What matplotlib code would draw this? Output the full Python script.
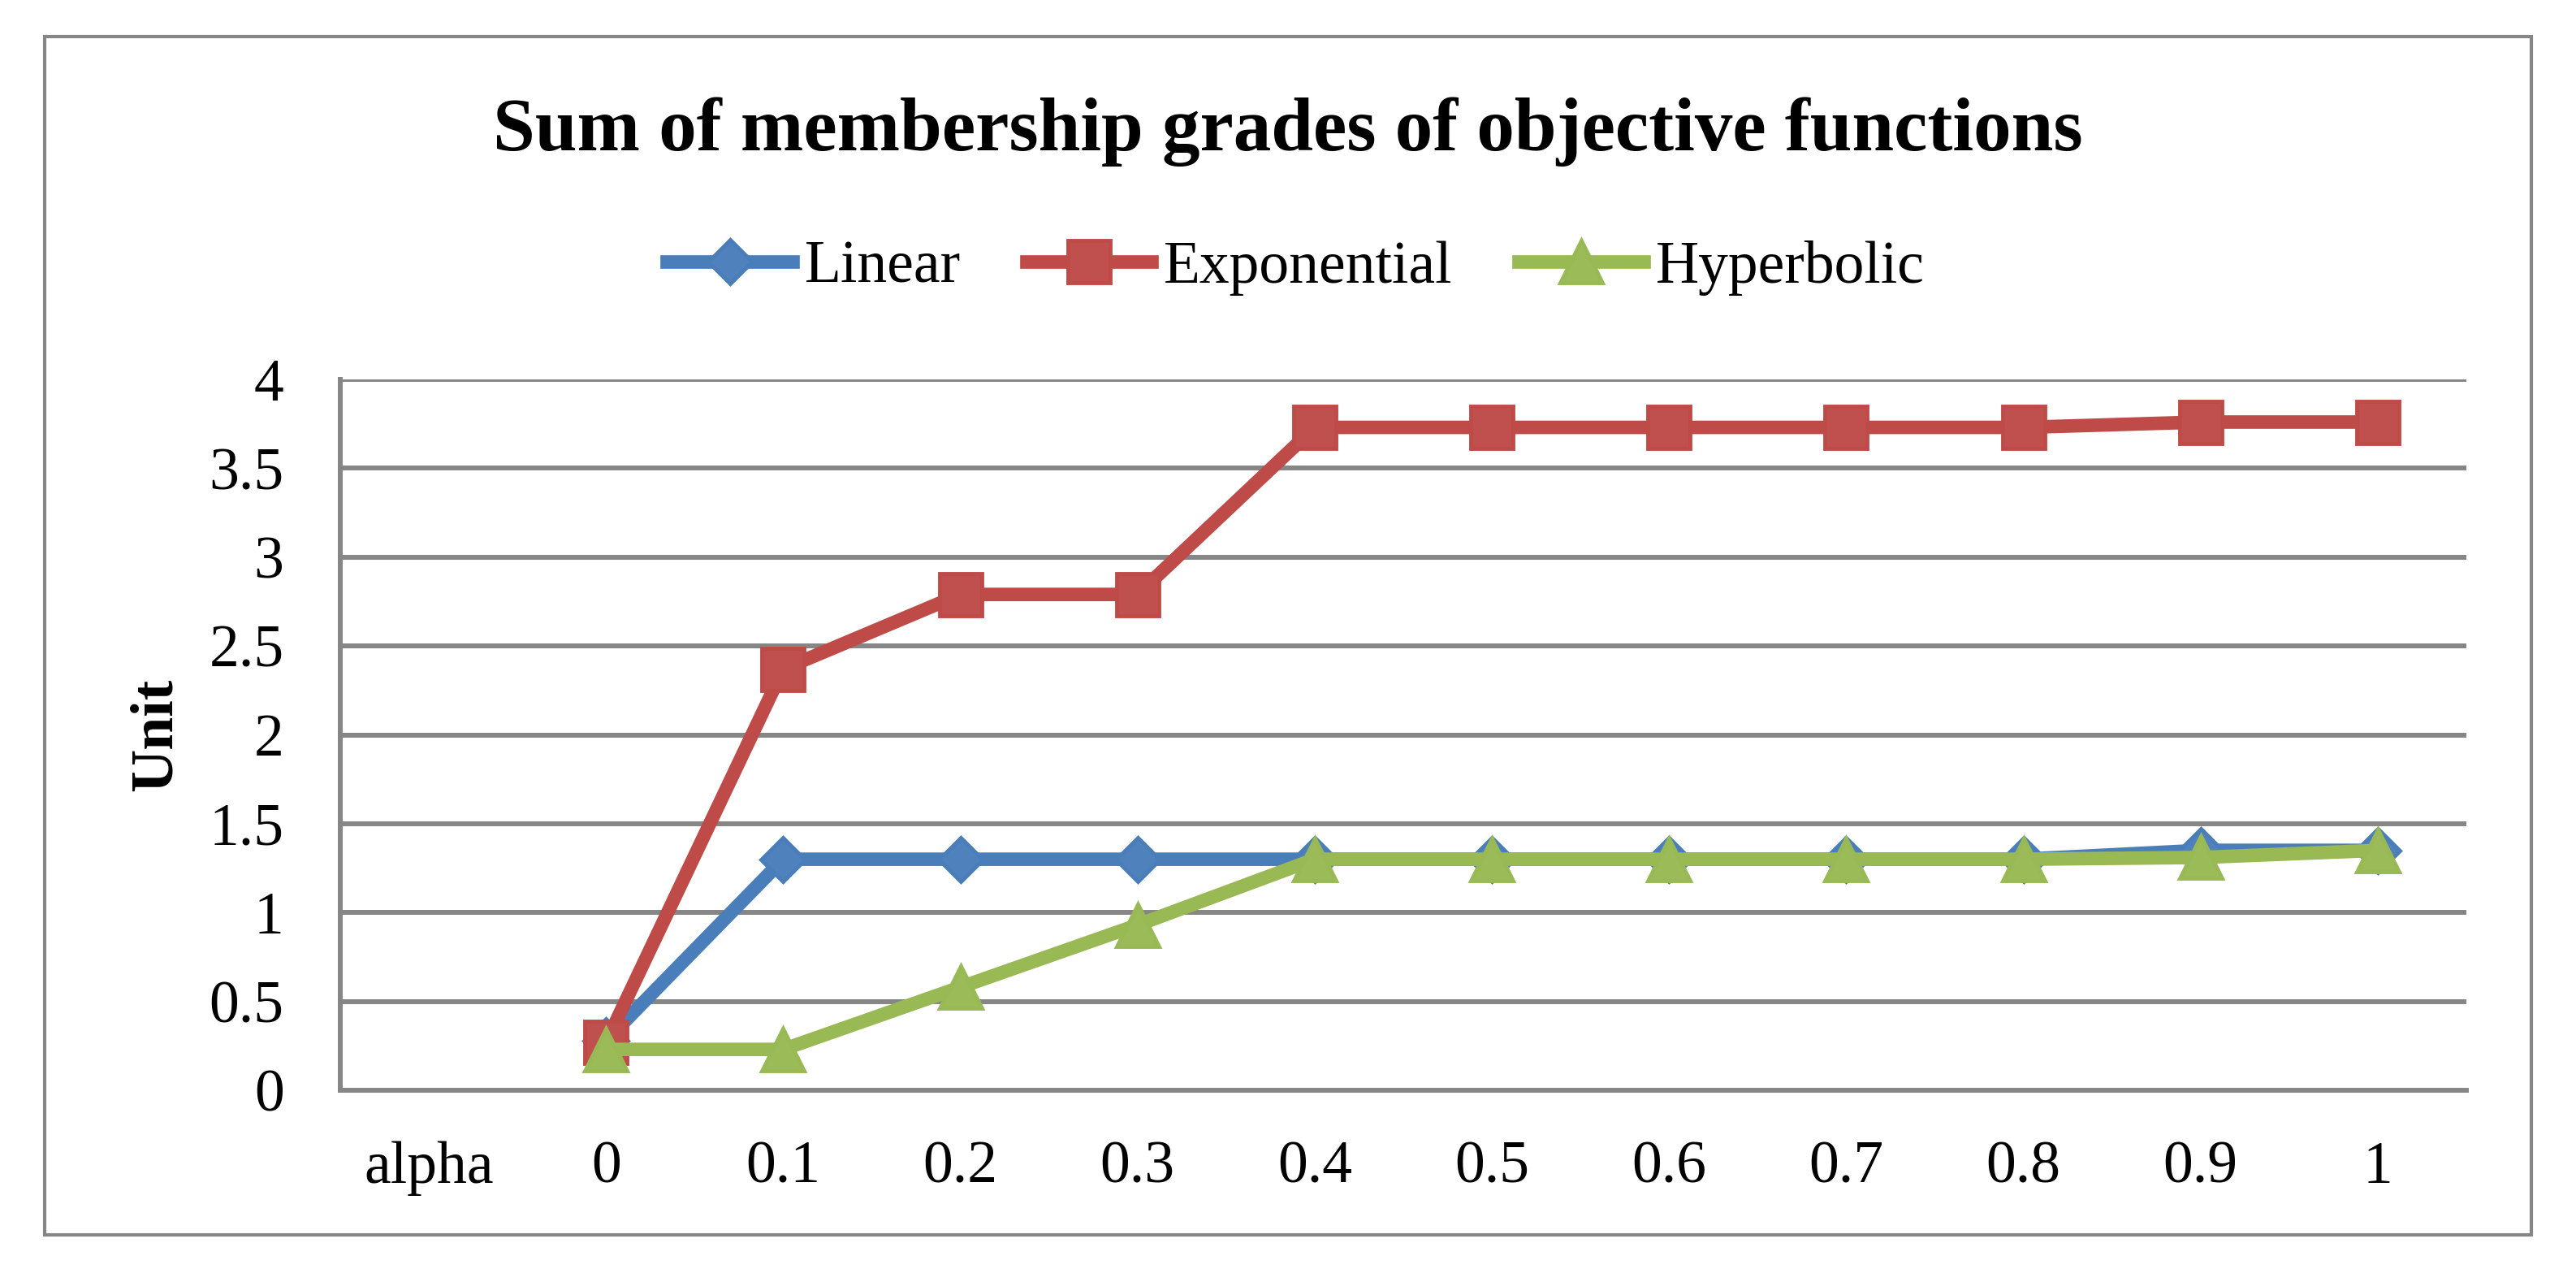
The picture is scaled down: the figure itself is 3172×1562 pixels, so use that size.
import numpy as np
import matplotlib
matplotlib.use("Agg")
import matplotlib.pyplot as plt
from matplotlib.patches import Rectangle

# chart data
categories = ['alpha', '0', '0.1', '0.2', '0.3', '0.4', '0.5', '0.6', '0.7', '0.8', '0.9', '1']
linear = [np.nan, 0.28, 1.30, 1.30, 1.30, 1.30, 1.30, 1.30, 1.30, 1.30, 1.35, 1.35]
exponential = [np.nan, 0.27, 2.37, 2.79, 2.79, 3.73, 3.73, 3.73, 3.73, 3.73, 3.76, 3.76]
hyperbolic = [np.nan, 0.23, 0.23, 0.58, 0.93, 1.30, 1.30, 1.30, 1.30, 1.30, 1.31, 1.35]
yticks = [0, 0.5, 1, 1.5, 2, 2.5, 3, 3.5, 4]

W, H = 3172, 1562
plt.rcParams['font.family'] = ['Liberation Serif', 'DejaVu Serif']

fig = plt.figure(figsize=(W / 100, H / 100), dpi=100)
fig.patch.set_facecolor('white')

grid_c = '#868686'
ax = fig.add_axes([419 / W, 1 - 1342 / H, (3037 - 419) / W, (1342 - 467) / H])

x = np.arange(len(categories))
# name, values, line colour, face colour, marker, marker size
series = [
    ('Linear', linear, '#4A7EBB', '#4F81BD', 'D', 27),
    ('Exponential', exponential, '#BE4B48', '#C0504D', 's', 37),
    ('Hyperbolic', hyperbolic, '#98B954', '#9BBB59', '^', 38),
]
for name, vals, col, face, mk, ms in series:
    ax.plot(x, vals, color=col, lw=12, marker=mk, markersize=ms,
            markerfacecolor=face, markeredgecolor=col, markeredgewidth=3.5,
            solid_joinstyle='round', label=name, zorder=3)

ax.set_xlim(-0.5, len(categories) - 0.5)
ax.set_ylim(0, 4)
ax.set_yticks(yticks)
ax.set_yticklabels(['0', '0.5', '1', '1.5', '2', '2.5', '3', '3.5', '4'])
ax.set_xticks(x)
ax.set_xticklabels(categories)
ax.tick_params(axis='y', length=0, pad=50, labelsize=53)
ax.tick_params(axis='x', length=0, pad=45, labelsize=53)
ax.yaxis.grid(True, color=grid_c, lw=4.3)
ax.set_axisbelow(True)
for s in ['top', 'right']:
    ax.spines[s].set_visible(False)
for s in ['left', 'bottom']:
    ax.spines[s].set_color(grid_c)
    ax.spines[s].set_linewidth(4.3)

fig.text(193 / W, 1 - 904 / H, 'Unit', rotation=90, ha='center', va='center',
         fontsize=53, fontweight='bold')
fig.text(0.5, 1 - 185 / H, 'Sum of membership grades of objective functions',
         ha='center', va='baseline', fontsize=67, fontweight='bold')

fig.legend(loc='center', bbox_to_anchor=(0.503, 1 - 330 / H), ncol=3, frameon=False,
           fontsize=53, handlelength=2.1, handletextpad=0.2, columnspacing=1.1)

# outer chart border
fig.patches.append(Rectangle((55 / W, 1 - 1520 / H), (3117 - 55) / W, (1520 - 45) / H,
                             transform=fig.transFigure, fill=False,
                             edgecolor=grid_c, lw=3))

fig.savefig('out.png', dpi=100)
